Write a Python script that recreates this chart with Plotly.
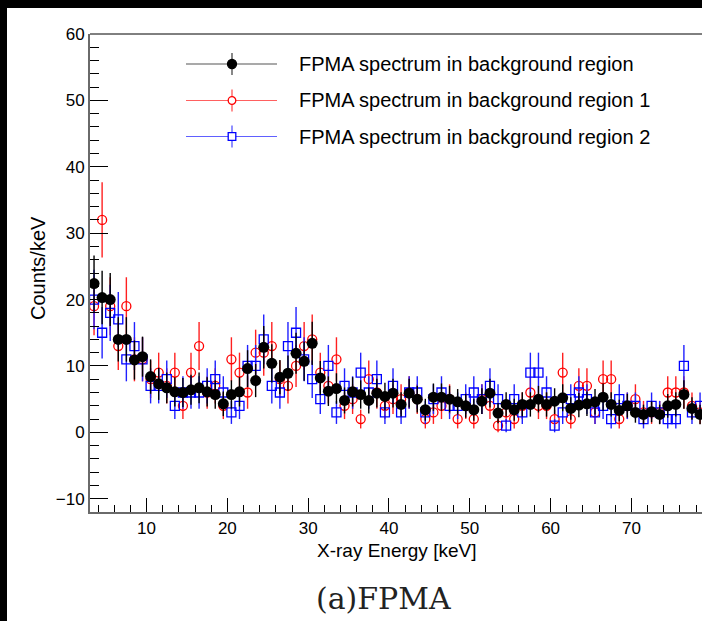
import numpy as np
import plotly.graph_objects as go

# Bin centres [keV]
energy = [3.5, 4.5, 5.5, 6.5, 7.5, 8.5, 9.5, 10.5, 11.5, 12.5, 13.5, 14.5, 15.5, 16.5, 17.5,
          18.5, 19.5, 20.5, 21.5, 22.5, 23.5, 24.5, 25.5, 26.5, 27.5, 28.5, 29.5, 30.5, 31.5,
          32.5, 33.5, 34.5, 35.5, 36.5, 37.5, 38.5, 39.5, 40.5, 41.5, 42.5, 43.5, 44.5, 45.5,
          46.5, 47.5, 48.5, 49.5, 50.5, 51.5, 52.5, 53.5, 54.5, 55.5, 56.5, 57.5, 58.5, 59.5,
          60.5, 61.5, 62.5, 63.5, 64.5, 65.5, 66.5, 67.5, 68.5, 69.5, 70.5, 71.5, 72.5, 73.5,
          74.5, 75.5, 76.5, 77.5, 78.5]

# FPMA spectrum in background region (black)
bkg_all = [22.4, 20.3, 20.0, 14.0, 14.0, 10.9, 11.4, 8.4, 7.3, 6.7, 6.1, 6.0, 6.4, 6.7, 6.1,
           5.7, 4.3, 5.7, 6.1, 9.6, 7.8, 12.8, 10.4, 8.3, 8.9, 11.9, 10.7, 13.4, 8.2,
           6.2, 6.6, 4.8, 6.1, 5.7, 4.8, 5.9, 5.4, 5.9, 4.2, 5.9, 5.0, 3.4, 5.3,
           5.3, 5.0, 4.6, 4.0, 3.4, 4.7, 5.9, 2.9, 4.2, 3.4, 4.2, 4.2, 5.0, 4.2,
           4.7, 5.2, 3.6, 4.1, 4.3, 4.6, 5.3, 4.2, 3.3, 4.0, 3.0, 2.7, 3.1, 2.7,
           4.0, 4.2, 5.7, 3.6, 2.7]

# FPMA spectrum in background region 1 (red)
bkg_r1 = [19, 32, 19, 13, 19, 11, 11, 8, 9, 7, 9, 4, 9, 13, 6,
          7, 4, 11, 9, 6, 12, 12, 13, 8, 7, 10, 13, 14, 9,
          7, 11, 4, 5, 2, 8, 6, 4, 5, 5, 6, 5, 2, 3,
          4, 5, 2, 4, 2, 5, 4, 1, 3, 2, 4, 6, 4, 4,
          2, 9, 2, 7, 7, 3, 8, 8, 2, 4, 5, 3, 3, 3,
          6, 6, 6, 4, 3]

# FPMA spectrum in background region 2 (blue)
bkg_r2 = [20, 15, 18, 17, 11, 13, 11, 7, 7, 8, 4, 6, 6, 6, 7,
          8, 6, 3, 4, 10, 10, 14, 7, 6, 13, 15, 11, 8, 5,
          10, 3, 7, 6, 9, 6, 8, 3, 7, 3, 6, 6, 3, 5,
          6, 4, 4, 5, 6, 5, 7, 5, 1, 5, 3, 9, 9, 6,
          1, 3, 5, 6, 5, 3, 4, 2, 5, 4, 4, 2, 4, 3,
          2, 2, 10, 3, 4]

# statistical error bars (counting errors)
err_all = np.sqrt(0.8 * np.array(bkg_all))
err_r1 = np.sqrt(np.array(bkg_r1, dtype=float))
err_r2 = np.sqrt(np.array(bkg_r2, dtype=float))

legend_names = ["FPMA spectrum in background region",
                "FPMA spectrum in background region 1",
                "FPMA spectrum in background region 2"]

W, H = 702, 621
ML, MR, MT, MB = 90, 0, 34, 109
PW, PH = W - ML - MR, H - MT - MB


def px(x):
    return (x - ML) / PW


def py(y):
    return (H - MB - y) / PH


fig = go.Figure()
fig.add_trace(go.Scatter(
    x=energy, y=bkg_r1, mode="markers", name=legend_names[1], showlegend=False,
    marker=dict(symbol="circle-open", size=9, color="#ff0000", line=dict(width=1.3)),
    error_y=dict(type="data", array=err_r1, color="#ff2020", thickness=1.4, width=0)))
fig.add_trace(go.Scatter(
    x=energy, y=bkg_r2, mode="markers", name=legend_names[2], showlegend=False,
    marker=dict(symbol="square-open", size=9, color="#0000ff", line=dict(width=1.3)),
    error_y=dict(type="data", array=err_r2, color="#2020ff", thickness=1.4, width=0)))
fig.add_trace(go.Scatter(
    x=energy, y=bkg_all, mode="markers", name=legend_names[0], showlegend=False,
    marker=dict(symbol="circle", size=11, color="#000000"),
    error_y=dict(type="data", array=err_all, color="#000000", thickness=1.4, width=0)))

shapes = []
annotations = []
# black border strips of the picture
shapes.append(dict(type="rect", xref="paper", yref="paper", xsizemode="pixel", ysizemode="pixel",
                   xanchor=0, x0=-ML, x1=-ML + 7, yanchor=1, y0=MT, y1=-(H - MT),
                   fillcolor="black", line=dict(width=0), layer="above"))
shapes.append(dict(type="rect", xref="paper", yref="paper", xsizemode="pixel", ysizemode="pixel",
                   xanchor=0, x0=-ML, x1=W, yanchor=1, y0=MT, y1=MT - 8,
                   fillcolor="black", line=dict(width=0), layer="above"))
# top frame line
shapes.append(dict(type="line", xref="paper", yref="paper", x0=0, x1=1, y0=1, y1=1,
                   line=dict(color="black", width=1)))

# hand-drawn ROOT style legend
leg_y = [64, 100.5, 136.5]
leg_col = ["#000000", "#ff0000", "#0000ff"]
leg_line = ["#555555", "#ff6060", "#6060ff"]
mx = px(232)
for i in range(3):
    yy = py(leg_y[i])
    shapes.append(dict(type="line", xref="paper", yref="paper", x0=px(186), x1=px(277),
                       y0=yy, y1=yy, line=dict(color=leg_line[i], width=1.2)))
    shapes.append(dict(type="line", xref="paper", yref="paper", ysizemode="pixel", yanchor=yy,
                       x0=mx, x1=mx, y0=-11, y1=11, line=dict(color=leg_line[i], width=1.4)))
    kind = "circle" if i < 2 else "rect"
    r = 4.5 if i == 0 else 3.8
    shapes.append(dict(type=kind, xref="paper", yref="paper", xsizemode="pixel", ysizemode="pixel",
                       xanchor=mx, yanchor=yy, x0=-r, x1=r, y0=-r, y1=r,
                       fillcolor=leg_col[i] if i == 0 else "white",
                       line=dict(color=leg_col[i], width=1.3)))
    annotations.append(dict(text=legend_names[i], xref="paper", yref="paper", x=px(297), y=yy,
                            xanchor="left", yanchor="middle", showarrow=False,
                            font=dict(family="Liberation Sans, Arial", size=20, color="black")))

# axis titles and caption
annotations.append(dict(text="X-ray Energy [keV]", xref="paper", yref="paper", x=px(396), y=py(550),
                        xanchor="center", yanchor="middle", showarrow=False,
                        font=dict(family="Liberation Sans, Arial", size=19, color="black")))
annotations.append(dict(text="Counts/keV", xref="paper", yref="paper", x=px(38), y=py(268),
                        xanchor="center", yanchor="middle", showarrow=False, textangle=-90,
                        font=dict(family="Liberation Sans, Arial", size=20, color="black")))
annotations.append(dict(text="(a)FPMA", xref="paper", yref="paper", x=px(383), y=py(598),
                        xanchor="center", yanchor="middle", showarrow=False,
                        font=dict(family="DejaVu Serif, serif", size=30, color="#222222")))

axis_common = dict(showgrid=False, zeroline=False, showline=True, linecolor="#6a6a6a", linewidth=2,
                   ticks="inside", tickcolor="black", tickwidth=1,
                   tickfont=dict(family="Liberation Sans, Arial", size=17, color="black"))

fig.update_layout(
    width=W, height=H, margin=dict(l=ML, r=MR, t=MT, b=MB),
    paper_bgcolor="white", plot_bgcolor="white", showlegend=False,
    xaxis=dict(range=[3, 78.74], dtick=10, tick0=0, ticklen=14,
               minor=dict(ticks="inside", ticklen=7, dtick=2, tick0=0, tickcolor="black", tickwidth=1),
               **axis_common),
    yaxis=dict(range=[-12, 60], dtick=10, tick0=0, ticklen=18,
               minor=dict(ticks="inside", ticklen=9, dtick=2, tick0=0, tickcolor="black", tickwidth=1),
               **axis_common),
    shapes=shapes, annotations=annotations)

fig.write_html("out.html", config={"displayModeBar": False},
               post_script="document.body.style.margin='0';"
                           "document.body.style.overflow='hidden';")
